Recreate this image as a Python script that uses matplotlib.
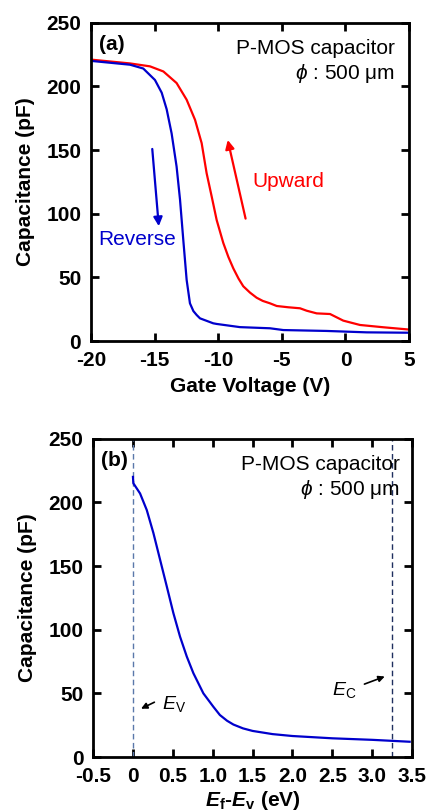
import matplotlib.pyplot as plt

plt.rcParams['font.family'] = ['Liberation Sans', 'DejaVu Sans']
plt.rcParams['axes.unicode_minus'] = False
plt.rcParams['mathtext.fontset'] = 'custom'
plt.rcParams['mathtext.rm'] = 'Liberation Sans'
plt.rcParams['mathtext.it'] = 'Liberation Sans:italic'
plt.rcParams['mathtext.bf'] = 'Liberation Sans:bold'
plt.rcParams['mathtext.bfit'] = 'Liberation Sans:bold:italic'

# (a) C-V sweep
v_up = [-20, -16.93, -15.36, -14.31, -13.27, -12.48, -11.82, -11.3, -10.91, -10.51,
        -10.12, -9.6, -9.2, -8.81, -8.4, -8.03, -7.5, -6.98, -6.5, -5.93, -5.4,
        -4.5, -3.57, -3.05, -2.26, -1.21, -0.17, 1.14, 2.97, 5.0]
c_up = [221, 218, 215.7, 211.7, 202.6, 189.5, 173.7, 155.4, 131.8, 113.4,
        95, 77, 66, 57, 49, 43, 38, 34, 31.5, 29.6, 27.5,
        26.5, 25.7, 23.8, 21.7, 21.2, 16, 12.6, 10.8, 9]
v_rev = [-20, -16.93, -15.89, -14.97, -14.44, -14.05, -13.66, -13.27, -13.0, -12.74,
         -12.48, -12.22, -11.95, -11.69, -11.43, -10.39, -10.12, -8.29, -5.93, -4.88,
         -1.47, 1.67, 5.0]
c_rev = [220, 217, 214, 205, 195, 182, 163, 137, 111, 79,
         48, 29.6, 23.5, 20.4, 17.8, 13.9, 13.4, 10.9, 10, 8.6,
         7.9, 6.8, 6.5]

# (b) C vs Ef-Ev
e_f = [0.0, 0.005, 0.089, 0.173, 0.256, 0.34, 0.424, 0.507, 0.59, 0.675, 0.758,
       0.883, 1.008, 1.09, 1.18, 1.26, 1.38, 1.5, 1.75, 2.0, 2.5, 3.0, 3.22, 3.47]
c_f = [220, 215, 207, 194, 176, 155, 134, 113, 94.6, 78.9, 65.8,
       50, 39.5, 33, 28.5, 25.5, 22.5, 20.5, 18, 16.5, 14.7, 13.5, 12.8, 12]
e_v_line = 0.0
e_c_line = 3.245

fig = plt.figure(figsize=(4.27, 8.10), dpi=100)
ax1 = fig.add_axes([0.213, 0.579, 0.745, 0.393])
ax2 = fig.add_axes([0.218, 0.0654, 0.747, 0.393])

for ax in (ax1, ax2):
    for s in ax.spines.values():
        s.set_linewidth(2)
    ax.tick_params(direction='in', length=6, width=2, top=True, right=True,
                   labelsize=15)
    ax.tick_params(axis='x', pad=7)
    ax.tick_params(axis='y', pad=7)
    ax.set_ylim(0, 250)
    ax.set_yticks([0, 50, 100, 150, 200, 250])
    ax.set_ylabel('Capacitance (pF)', fontsize=15, fontweight='bold', labelpad=8)

# panel a
ax1.plot(v_up, c_up, color='#ff0000', lw=1.6)
ax1.plot(v_rev, c_rev, color='#0000cc', lw=1.6)
ax1.set_xlim(-20, 5)
ax1.set_xticks([-20, -15, -10, -5, 0, 5])
ax1.set_xlabel('Gate Voltage (V)', fontsize=15, fontweight='bold', labelpad=5)
ax1.text(-19.4, 233, '(a)', fontsize=15, fontweight='bold', va='center')
ax1.text(3.9, 230, 'P-MOS capacitor', fontsize=15, ha='right', va='center')
ax1.text(3.9, 210, r'$\phi$ : 500 μm', fontsize=15, ha='right', va='center')
ax1.annotate('', xy=(-9.3, 160), xytext=(-7.8, 94),
             arrowprops=dict(arrowstyle='-|>', color='#ff0000', lw=1.6, mutation_scale=13))
ax1.text(-7.3, 125, 'Upward', fontsize=15, color='#ff0000', va='center')
ax1.annotate('', xy=(-14.65, 88), xytext=(-15.2, 153),
             arrowprops=dict(arrowstyle='-|>', color='#0000cc', lw=1.6, mutation_scale=13))
ax1.text(-19.4, 80, 'Reverse', fontsize=15, color='#0000cc', va='center')

# panel b
ax2.axvline(e_v_line, color='#5a78aa', lw=1, ls=(0, (4, 2.5)))
ax2.axvline(e_c_line, color='#1f2f5f', lw=1, ls=(0, (4, 2.5)))
ax2.plot(e_f, c_f, color='#0000cc', lw=1.6)
ax2.set_xlim(-0.5, 3.5)
ax2.set_xticks([-0.5, 0, 0.5, 1.0, 1.5, 2.0, 2.5, 3.0, 3.5])
ax2.set_xticklabels(['-0.5', '0', '0.5', '1.0', '1.5', '2.0', '2.5', '3.0', '3.5'])
ax2.set_xlabel(r'$\mathbfit{E}_{\mathbf{f}}$-$\mathbfit{E}_{\mathbf{v}}$ (eV)',
               fontsize=15, fontweight='bold', labelpad=2)
ax2.text(-0.4, 233, '(b)', fontsize=15, fontweight='bold', va='center')
ax2.text(3.35, 230, 'P-MOS capacitor', fontsize=15, ha='right', va='center')
ax2.text(3.35, 210, r'$\phi$ : 500 μm', fontsize=15, ha='right', va='center')
ax2.annotate('', xy=(0.07, 37), xytext=(0.30, 44),
             arrowprops=dict(arrowstyle='-|>', color='black', lw=1.2, mutation_scale=9))
ax2.text(0.37, 42, r'$E_{\mathrm{V}}$', fontsize=14, va='center')
ax2.annotate('', xy=(3.19, 64), xytext=(2.87, 56.5),
             arrowprops=dict(arrowstyle='-|>', color='black', lw=1.2, mutation_scale=9))
ax2.text(2.5, 53, r'$E_{\mathrm{C}}$', fontsize=14, va='center')

for ax in (ax1, ax2):
    for lab in ax.get_xticklabels() + ax.get_yticklabels():
        lab.set_fontweight('bold')

fig.savefig('out.png', dpi=100)
